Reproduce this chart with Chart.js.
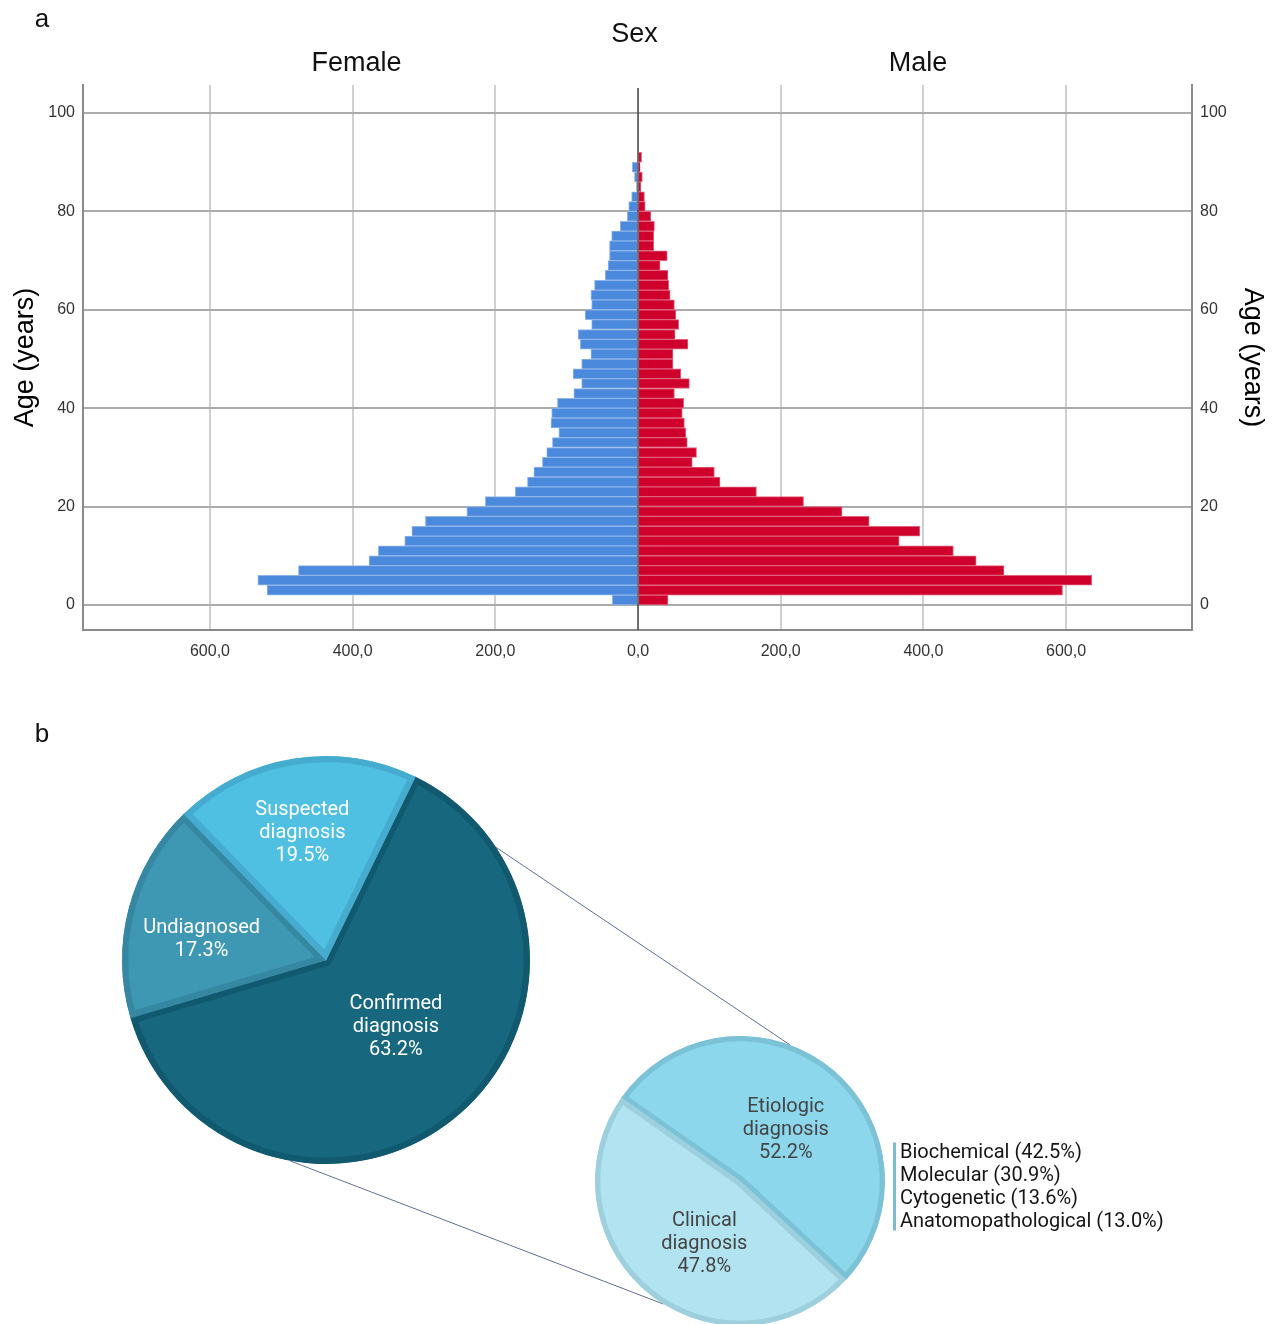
<!DOCTYPE html>
<html>
<head>
<meta charset="utf-8">
<script src="https://cdn.jsdelivr.net/npm/chart.js@4.4.1/dist/chart.umd.min.js"></script>
<style>
  html, body { margin: 0; padding: 0; background: #ffffff; }
  body { width: 1272px; height: 1324px; position: relative; overflow: hidden; }
  .panel { position: absolute; left: 0; }
  #pyramidBox { top: 0; width: 1272px; height: 700px; }
  #overviewBox, #detailBox { top: 700px; width: 1272px; height: 624px; }
</style>
</head>
<body>
<div class="panel" id="pyramidBox"><canvas id="pyramid" width="1272" height="700"></canvas></div>
<div class="panel" id="overviewBox"><canvas id="overview" width="1272" height="624"></canvas></div>
<div class="panel" id="detailBox"><canvas id="detail" width="1272" height="624"></canvas></div>
<script>
// ---- Panel a: age pyramid (2-year age bins) ----
const ageBinStart = [0, 2, 4, 6, 8, 10, 12, 14, 16, 18, 20, 22, 24, 26, 28, 30, 32, 34, 36, 38, 40, 42, 44,
                     46, 48, 50, 52, 54, 56, 58, 60, 62, 64, 66, 68, 70, 72, 74, 76, 78, 80, 82, 84, 86, 88, 90];
const femaleCounts = [36, 520, 533, 476, 377, 364, 327, 317, 298, 240, 214, 172, 155, 146, 134, 128, 120, 111, 122, 121, 113, 90, 79,
                      91, 79, 66, 81, 84, 65, 74, 65, 66, 61, 46, 42, 40, 40, 37, 25, 15, 13, 9, 2, 5, 8, 0];
const maleCounts   = [42, 595, 636, 513, 474, 442, 366, 395, 324, 286, 232, 166, 115, 107, 76, 82, 69, 67, 65, 62, 64, 51, 72,
                      60, 49, 49, 70, 52, 57, 53, 51, 45, 43, 42, 31, 41, 22, 22, 23, 18, 10, 9, 4, 6, 3, 5];
const countTicks = [-600, -400, -200, 0, 200, 400, 600];
const ageTicks = [0, 20, 40, 60, 80, 100];
const sexGroups = ['Female', 'Male'];

// ---- Panel b: diagnostic status ----
const statusLabels = ['Confirmed diagnosis', 'Undiagnosed', 'Suspected diagnosis'];
const statusShares = [63.2, 17.3, 19.5];
const confirmedLabels = ['Etiologic diagnosis', 'Clinical diagnosis'];
const confirmedShares = [52.2, 47.8];
const etiologicLabels = ['Biochemical', 'Molecular', 'Cytogenetic', 'Anatomopathological'];
const etiologicShares = [42.5, 30.9, 13.6, 13.0];

const AXIS_FONT = 'Liberation Sans, Arial, sans-serif';
const PIE_FONT = 'Roboto, Arial, sans-serif';

function commaDecimal(v) {
  return Math.abs(v).toFixed(1).replace('.', ',');
}
function fixedTicks(values) {
  return scale => { scale.ticks = values.map(v => ({ value: v })); };
}

// Titles, panel letter and the dark zero line of the pyramid
const pyramidDecor = {
  id: 'pyramidDecor',
  afterDatasetsDraw(chart) {
    const { ctx, chartArea, scales } = chart;
    const zero = scales.x.getPixelForValue(0);
    ctx.save();
    ctx.strokeStyle = '#4a4a4a';
    ctx.lineWidth = 1.6;
    ctx.beginPath();
    ctx.moveTo(zero, chartArea.top + 3);
    ctx.lineTo(zero, chartArea.bottom);
    ctx.stroke();
    ctx.restore();
  },
  afterDraw(chart) {
    const { ctx, chartArea, scales } = chart;
    const zero = scales.x.getPixelForValue(0);
    ctx.save();
    ctx.fillStyle = '#111111';
    ctx.textAlign = 'center';
    ctx.textBaseline = 'middle';
    ctx.font = '27px ' + AXIS_FONT;
    ctx.fillText('Sex', (chartArea.left + chartArea.right) / 2 - 3, 35);
    ctx.fillText(sexGroups[0], (chartArea.left + zero) / 2 - 4, 64);
    ctx.fillText(sexGroups[1], (zero + chartArea.right) / 2 + 3, 64);
    ctx.font = '26px ' + AXIS_FONT;
    ctx.fillText('a', 42, 20);
    ctx.restore();
  }
};

const tickFont = { family: AXIS_FONT, size: 16 };
const axisTitle = { family: AXIS_FONT, size: 27 };

new Chart(document.getElementById('pyramid'), {
  type: 'bar',
  data: {
    datasets: [
      {
        label: sexGroups[0],
        data: ageBinStart.map((a, i) => ({ x: -femaleCounts[i], y: a + 1 })),
        backgroundColor: '#4a89db',
        borderColor: '#8fb5ea',
        borderWidth: 1
      },
      {
        label: sexGroups[1],
        data: ageBinStart.map((a, i) => ({ x: maleCounts[i], y: a + 1 })),
        backgroundColor: '#cf002c',
        borderColor: '#e2627c',
        borderWidth: 1
      }
    ]
  },
  options: {
    indexAxis: 'y',
    responsive: false,
    animation: false,
    layout: { padding: { top: 85, left: 0, right: 0, bottom: 0 } },
    datasets: { bar: { barPercentage: 1, categoryPercentage: 1 } },
    plugins: { legend: { display: false }, tooltip: { enabled: false } },
    scales: {
      x: {
        type: 'linear', min: -778, max: 776.5, stacked: true, offset: false,
        afterBuildTicks: fixedTicks(countTicks),
        afterFit: s => { s.height = 70; },
        ticks: { callback: v => commaDecimal(v), font: tickFont, color: '#333333', padding: 12, maxRotation: 0, autoSkip: false },
        grid: { color: c => (c.tick && c.tick.value === 0) ? 'rgba(0,0,0,0)' : '#d0d0d0', lineWidth: 2, drawTicks: false, offset: false },
        border: { display: true, color: '#8a8a8a', width: 2 }
      },
      y: {
        type: 'linear', position: 'left', min: -5.1, max: 105.7, stacked: true, offset: false,
        afterBuildTicks: fixedTicks(ageTicks),
        afterFit: s => { s.width = 83; },
        ticks: { font: tickFont, color: '#333333', padding: 8 },
        grid: { color: '#ababab', lineWidth: 2, drawTicks: false, offset: false },
        border: { display: true, color: '#8a8a8a', width: 2 },
        title: { display: true, text: 'Age (years)', font: axisTitle, color: '#000000', padding: { top: 9, bottom: 0 } }
      },
      y2: {
        type: 'linear', position: 'right', min: -5.1, max: 105.7, offset: false,
        afterBuildTicks: fixedTicks(ageTicks),
        afterFit: s => { s.width = 80; },
        ticks: { font: tickFont, color: '#333333', padding: 8 },
        grid: { display: false, drawTicks: false, offset: false },
        border: { display: true, color: '#8a8a8a', width: 2 },
        title: { display: true, text: 'Age (years)', font: axisTitle, color: '#000000', padding: { top: 3, bottom: 0 } }
      }
    }
  },
  plugins: [pyramidDecor]
});

// ---- slice labels: placed along each slice's mid angle ----
function drawSliceLabels(chart, labels, shares, style) {
  const { ctx } = chart;
  const arcs = chart.getDatasetMeta(0).data;
  ctx.save();
  ctx.font = style.font;
  ctx.fillStyle = style.color;
  ctx.textAlign = 'center';
  ctx.textBaseline = 'middle';
  arcs.forEach((arc, i) => {
    const p = arc.getProps(['x', 'y', 'startAngle', 'endAngle', 'outerRadius'], true);
    const mid = (p.startAngle + p.endAngle) / 2;
    const place = style.place[i];
    const cx = p.x + Math.cos(mid) * p.outerRadius * place.frac + place.dx;
    const cy = p.y + Math.sin(mid) * p.outerRadius * place.frac + place.dy;
    const lines = labels[i].split(' ').concat([shares[i].toFixed(1) + '%']);
    const top = cy - (lines.length - 1) * style.lineHeight / 2;
    lines.forEach((t, k) => ctx.fillText(t, cx, top + k * style.lineHeight));
  });
  ctx.restore();
}

const overviewLabels = {
  id: 'overviewLabels',
  afterDatasetsDraw(chart) {
    drawSliceLabels(chart, statusLabels, statusShares, {
      font: '20px ' + PIE_FONT, color: '#ffffff', lineHeight: 23,
      place: [{ frac: 0.47, dx: 8, dy: -6 }, { frac: 0.62, dx: -2, dy: 12 }, { frac: 0.64, dx: -3, dy: 2 }]
    });
  }
};

const overview = new Chart(document.getElementById('overview'), {
  type: 'pie',
  data: {
    labels: statusLabels,
    datasets: [{
      data: statusShares,
      backgroundColor: ['#17677e', '#3e97b3', '#4fbfe2'],
      borderColor: ['#10596f', '#3687a2', '#45abcf'],
      borderWidth: 6,
      borderAlign: 'inner'
    }]
  },
  options: {
    responsive: false,
    animation: false,
    rotation: 26,
    radius: 204,
    layout: { padding: { left: 0, right: 620, top: 0, bottom: 104 } },
    plugins: { legend: { display: false }, tooltip: { enabled: false } }
  },
  plugins: [overviewLabels]
});

// Connector lines from the confirmed slice to its breakdown, plus the side list
const connectorAngles = { big: [-33.5, 100.2], small: [-69.8, 122] };
const detailDecor = {
  id: 'detailDecor',
  beforeDatasetsDraw(chart) {
    const big = overview.getDatasetMeta(0).data[0].getProps(['x', 'y', 'outerRadius'], true);
    const small = chart.getDatasetMeta(0).data[0].getProps(['x', 'y', 'outerRadius'], true);
    const { ctx } = chart;
    ctx.save();
    ctx.strokeStyle = '#5f6f93';
    ctx.lineWidth = 1;
    for (let k = 0; k < 2; k++) {
      const a1 = connectorAngles.big[k] * Math.PI / 180;
      const a2 = connectorAngles.small[k] * Math.PI / 180;
      ctx.beginPath();
      ctx.moveTo(big.x + Math.cos(a1) * big.outerRadius, big.y + Math.sin(a1) * big.outerRadius);
      ctx.lineTo(small.x + Math.cos(a2) * small.outerRadius, small.y + Math.sin(a2) * small.outerRadius);
      ctx.stroke();
    }
    ctx.restore();
  },
  afterDatasetsDraw(chart) {
    drawSliceLabels(chart, confirmedLabels, confirmedShares, {
      font: '20px ' + PIE_FONT, color: '#444444', lineHeight: 23,
      place: [{ frac: 0.48, dx: 2, dy: 3 }, { frac: 0.49, dx: 9, dy: 8 }]
    });
    const { ctx } = chart;
    const small = chart.getDatasetMeta(0).data[0].getProps(['x', 'y', 'outerRadius'], true);
    const x0 = small.x + small.outerRadius + 8;
    const lineH = 23;
    const midY = small.y + 5;
    const top = midY - (etiologicLabels.length - 1) * lineH / 2;
    ctx.save();
    ctx.fillStyle = '#79bdd0';
    ctx.fillRect(x0, top - 9, 3, (etiologicLabels.length - 1) * lineH + 19);
    ctx.fillStyle = '#151515';
    ctx.font = '20px ' + PIE_FONT;
    ctx.textAlign = 'left';
    ctx.textBaseline = 'middle';
    etiologicLabels.forEach((t, i) => {
      ctx.fillText(t + ' (' + etiologicShares[i].toFixed(1) + '%)', x0 + 7, top + i * lineH + 1);
    });
    ctx.fillStyle = '#111111';
    ctx.textAlign = 'center';
    ctx.font = '26px ' + AXIS_FONT;
    ctx.fillText('b', 42, 35);
    ctx.restore();
  }
};

new Chart(document.getElementById('detail'), {
  type: 'pie',
  data: {
    labels: confirmedLabels,
    datasets: [{
      data: confirmedShares,
      backgroundColor: ['#8cd7eb', '#b2e3f0'],
      borderColor: ['#7bc2d7', '#9dcfdd'],
      borderWidth: 5,
      borderAlign: 'inner'
    }]
  },
  options: {
    responsive: false,
    animation: false,
    rotation: 305,
    radius: 145,
    layout: { padding: { left: 208, right: 0, top: 338, bottom: 0 } },
    plugins: { legend: { display: false }, tooltip: { enabled: false } }
  },
  plugins: [detailDecor]
});
</script>
</body>
</html>
